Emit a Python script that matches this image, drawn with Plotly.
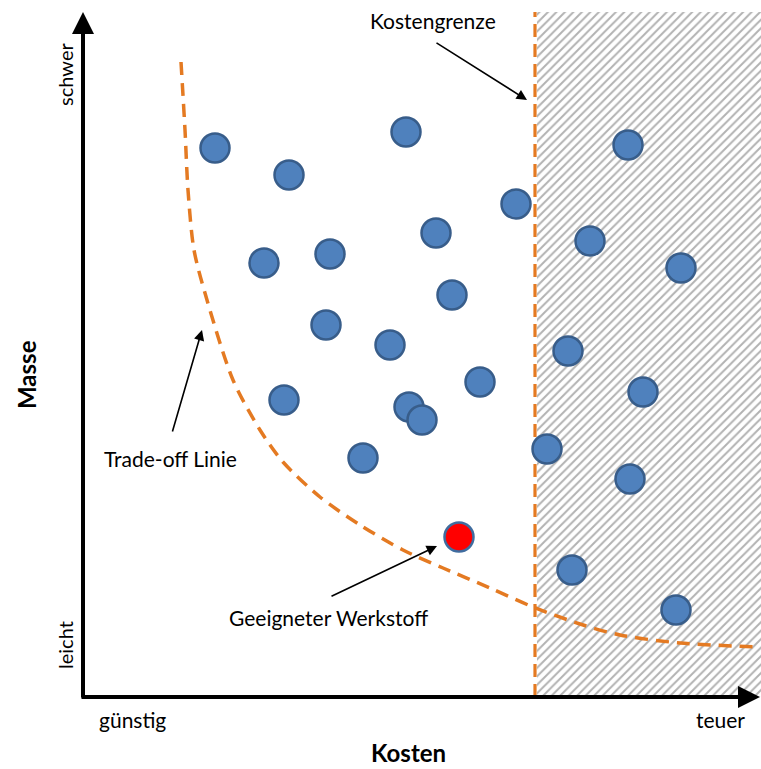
import plotly.graph_objects as go

# Werkstoffe: Kosten (x) und Masse (y) in relativen Einheiten
kosten = [132, 206, 323, 433, 353, 247, 181, 369, 243, 307, 397, 201, 326, 339, 280,
          545, 507, 598, 485, 560, 464, 547, 489, 593]
masse = [549, 522, 565, 493, 464, 443, 434, 402, 372, 352, 315, 297, 290, 277, 239,
         552, 456, 429, 346, 305, 248, 218, 127, 87]

# geeigneter Werkstoff
best_kosten = [376]
best_masse = [160]

# Trade-off Linie (Pareto-Front)
trade_kosten = [98, 102, 105, 111, 124, 150, 177, 200, 237, 277, 320, 360, 407, 450, 497, 537, 597, 677]
trade_masse = [635, 567, 507, 447, 397, 317, 267, 235, 200, 172, 147, 129, 109, 90, 73, 62, 54, 50]

# Kostengrenze
grenze = 452
x_max = 678
y_max = 685

ORANGE = "#E47A22"
BLUE = "#4F81BD"
BLUE_EDGE = "#385D8A"
FONT = "Lato"

fig = go.Figure()

# schraffierter Bereich jenseits der Kostengrenze
fig.add_trace(go.Scatter(
    x=[grenze + 2, x_max, x_max, grenze + 2, grenze + 2],
    y=[0, 0, y_max, y_max, 0],
    mode="lines", fill="toself", line=dict(width=0),
    fillcolor="white",
    fillpattern=dict(shape="/", fgcolor="#666666", bgcolor="white", size=6, solidity=0.33),
    hoverinfo="skip", showlegend=False,
))

# Kostengrenze
fig.add_trace(go.Scatter(
    x=[grenze, grenze], y=[0, y_max], mode="lines",
    line=dict(color=ORANGE, width=3.2, dash="13px,7px"),
    hoverinfo="skip", showlegend=False,
))

# Trade-off Linie
fig.add_trace(go.Scatter(
    x=trade_kosten, y=trade_masse, mode="lines",
    line=dict(color=ORANGE, width=3.5, dash="13px,8px", shape="spline", smoothing=0.8),
    hoverinfo="skip", showlegend=False,
))

# Werkstoffe
fig.add_trace(go.Scatter(
    x=kosten, y=masse, mode="markers",
    marker=dict(size=29, color=BLUE, line=dict(color=BLUE_EDGE, width=2.5)),
    showlegend=False,
))
fig.add_trace(go.Scatter(
    x=best_kosten, y=best_masse, mode="markers",
    marker=dict(size=29, color="#FF0000", line=dict(color="#3F6C9F", width=2.5)),
    showlegend=False,
))

annotations = []

# Achsen als Pfeile
annotations.append(dict(x=0, y=y_max, ax=0, ay=-2, xref="x", yref="y", axref="x", ayref="y",
                        text="", showarrow=True, arrowhead=2, arrowsize=1.1, arrowwidth=4,
                        arrowcolor="black", standoff=0))
annotations.append(dict(x=x_max - 1, y=0, ax=-3, ay=0, xref="x", yref="y", axref="x", ayref="y",
                        text="", showarrow=True, arrowhead=2, arrowsize=1.1, arrowwidth=4,
                        arrowcolor="black", standoff=0))

# Hinweispfeile
for head, tail in [((444, 597), (352, 655)), ((119, 367), (89, 264)), ((354, 151), (247, 100))]:
    annotations.append(dict(x=head[0], y=head[1], ax=tail[0], ay=tail[1],
                            xref="x", yref="y", axref="x", ayref="y",
                            text="", showarrow=True, arrowhead=2, arrowsize=1.3,
                            arrowwidth=1.6, arrowcolor="black", standoff=0))

def label(x, y, text, size=21, bold=False, angle=0):
    annotations.append(dict(x=x, y=y, xref="x", yref="y", text=f"<b>{text}</b>" if bold else text,
                            showarrow=False, textangle=angle,
                            font=dict(family=FONT, size=size, color="black"),
                            xanchor="center", yanchor="middle"))

label(-18, 622, "schwer", size=20, angle=-90)
label(-18, 52, "leicht", size=20, angle=-90)
label(-57, 322, "Masse", size=24, bold=True, angle=-90)
label(49, -22, "günstig", size=21)
label(637, -22, "teuer", size=21)
label(325, -55, "Kosten", size=24, bold=True)
label(350, 677, "Kostengrenze")
label(87, 239, "Trade-off Linie")
label(245, 80, "Geeigneter Werkstoff")

fig.update_layout(
    width=761, height=769,
    margin=dict(l=0, r=0, t=0, b=0),
    paper_bgcolor="white", plot_bgcolor="white",
    xaxis=dict(range=[-83, 678], visible=False, fixedrange=True),
    yaxis=dict(range=[-72, 697], visible=False, fixedrange=True),
    annotations=annotations,
    showlegend=False,
)

fig.write_html("out.html")
